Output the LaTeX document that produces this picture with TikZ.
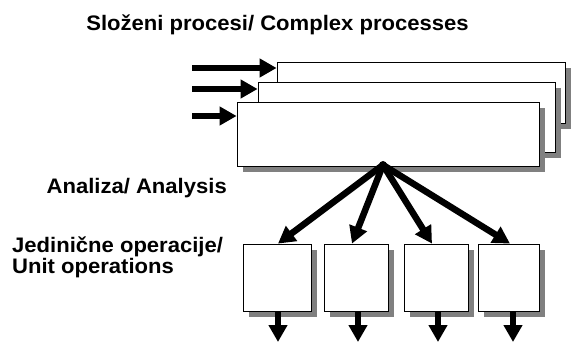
\documentclass[tikz,border=0pt]{standalone}
\usepackage{fontspec}
\newfontfamily\lblfont{Liberation Sans}
\usetikzlibrary{arrows.meta}
\usetikzlibrary{shadows}

\begin{document}
\begin{tikzpicture}[x=1pt, y=-1pt,
	box/.style = {draw = black, line width = 0.8pt, fill = white, inner sep = 0pt,
		drop shadow = {shadow xshift = 6pt, shadow yshift = -6pt, fill = gray, opacity = 1}},
	lbl/.style = {font = \lblfont\bfseries\fontsize{21}{24}\selectfont, xscale = 1.05, inner sep = 0pt},
	fat/.style = {line width = 6.5pt, -{Triangle[length = 17pt, width = 18pt]}}]
	
	\useasboundingbox (0,0) rectangle (571,342);
	
	% complex processes
	\node[box, minimum width = 288pt, minimum height = 61pt] (procC) at (421,92.5) {};
	\node[box, minimum width = 297pt, minimum height = 70pt] (procB) at (406.5,117) {};
	\node[box, minimum width = 302pt, minimum height = 64pt] (procA) at (388,134) {};
	
	\coordinate (in1) at (192,68);
	\coordinate (in2) at (192,89);
	\coordinate (in3) at (192,116);
	\draw[fat] (in1) -- (in1 -| procC.west);
	\draw[fat] (in2) -- (in2 -| procB.west);
	\draw[fat] (in3) -- (in3 -| procA.west);
	
	% unit operations
	\node[box, minimum width = 68pt, minimum height = 67pt] (op1) at (277,277.5) {};
	\node[box, minimum width = 64pt, minimum height = 67pt] (op2) at (356,277.5) {};
	\node[box, minimum width = 64pt, minimum height = 67pt] (op3) at (436,277.5) {};
	\node[box, minimum width = 61pt, minimum height = 67pt] (op4) at (508.5,277.5) {};
	
	\node[circle, fill = black, inner sep = 0pt, minimum size = 8pt] (split) at (383,165) {};
	\draw[fat] (split.center) -- ([xshift = 1pt]op1.north);
	\draw[fat] (split.center) -- ([xshift = -4pt]op2.north);
	\draw[fat] (split.center) -- ([xshift = -4pt]op3.north);
	\draw[fat] (split.center) -- ([xshift = 1.5pt]op4.north);
	
	\coordinate (out1) at (278,342);
	\coordinate (out2) at (358,342);
	\coordinate (out3) at (438,342);
	\coordinate (out4) at (513,342);
	\draw[fat] (out1 |- op1.south) -- (out1);
	\draw[fat] (out2 |- op2.south) -- (out2);
	\draw[fat] (out3 |- op3.south) -- (out3);
	\draw[fat] (out4 |- op4.south) -- (out4);
	
	% labels
	\node[lbl, anchor = base] (title) at (277.5,31) {Složeni procesi/ Complex processes};
	\node[lbl, anchor = base east] (analysis) at (227,194) {Analiza/ Analysis};
	\node[lbl, anchor = base west] (unitops) at (12,252) {Jedinične operacije/};
	\node[lbl, anchor = base west] (unitops2) at (12,273) {Unit operations};
\end{tikzpicture}
\end{document}
